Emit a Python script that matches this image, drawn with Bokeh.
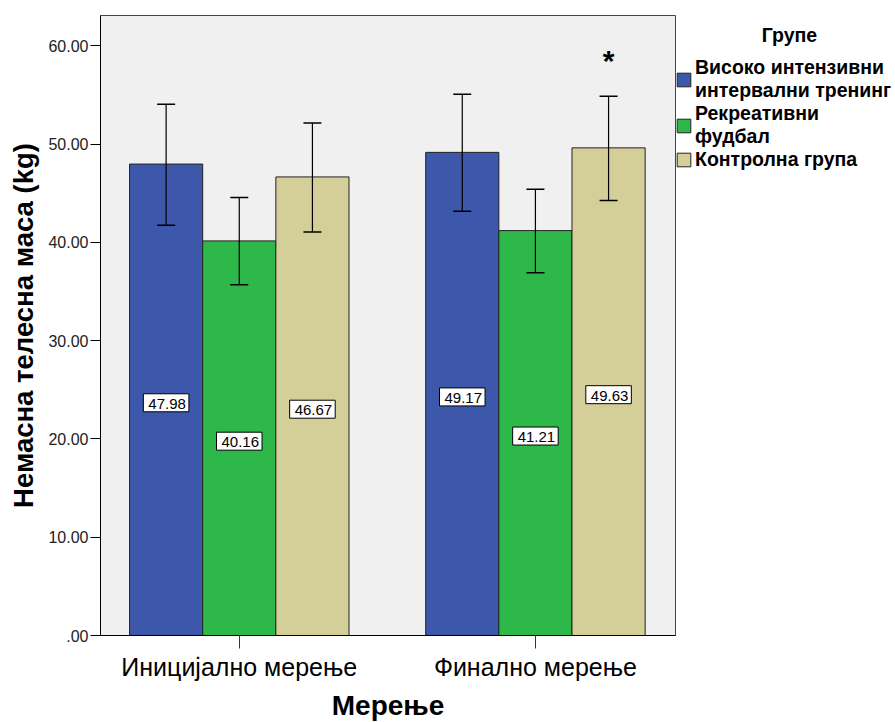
from bokeh.plotting import figure
from bokeh.models import (ColumnDataSource, FixedTicker, Whisker, TeeHead,
                          Label, Legend, LegendItem)
from bokeh.embed import file_html
from bokeh.resources import INLINE

# ---- data ----
measurements = ["Иницијално мерење", "Финално мерење"]
groups = ["Високо интензивни\nинтервални тренинг", "Рекреативни\nфудбал", "Контролна група"]
legend_title = "Групе"
colors = ["#3d57aa", "#2fb84a", "#d4ce98"]
means_initial = [47.98, 40.16, 46.67]
means_final = [49.17, 41.21, 49.63]
upper_initial = [54.07, 44.57, 52.17]
lower_initial = [41.75, 35.71, 41.07]
upper_final = [55.09, 45.42, 54.89]
lower_final = [43.18, 36.93, 44.27]
y_ticks = [0, 10, 20, 30, 40, 50, 60]
y_tick_labels = [".00", "10.00", "20.00", "30.00", "40.00", "50.00", "60.00"]

FONT = "Liberation Sans"
FW, FH = 575, 620
bar_w = 0.247
offsets = [-bar_w, 0.0, bar_w]

p = figure(frame_width=FW, frame_height=FH, x_range=(-0.4686, 1.473), y_range=(0, 63.1),
           output_backend="svg", toolbar_location=None,
           min_border_left=100, min_border_top=15, min_border_bottom=10, min_border_right=0)
p.background_fill_color = "#f0f0f0"
p.border_fill_color = "white"
p.outline_line_color = "#444444"
p.outline_line_width = 1
p.xgrid.visible = False
p.ygrid.visible = False

legend_items = []
for gi in range(3):
    xs = [mi + offsets[gi] for mi in range(len(measurements))]
    tops = [means_initial[gi], means_final[gi]]
    ups = [upper_initial[gi], upper_final[gi]]
    los = [lower_initial[gi], lower_final[gi]]
    src = ColumnDataSource(dict(x=xs, top=tops, upper=ups, lower=los))
    r = p.vbar(x="x", top="top", bottom=0, width=bar_w, source=src,
               fill_color=colors[gi], line_color="#222222", line_width=1)
    legend_items.append(LegendItem(label=groups[gi], renderers=[r]))
    wh = Whisker(base="x", upper="upper", lower="lower", source=src, level="overlay",
                 line_color="black", line_width=1.2,
                 upper_head=TeeHead(size=18, line_color="black", line_width=1.5),
                 lower_head=TeeHead(size=18, line_color="black", line_width=1.5))
    p.add_layout(wh)
    for xv, tv in zip(xs, tops):
        p.add_layout(Label(x=xv, y=tv / 2, y_offset=-3, text="%.2f" % tv, level="overlay",
                           text_align="center", text_baseline="middle",
                           text_font=FONT, text_font_size="15px", text_color="black",
                           background_fill_color="white", border_line_color="black",
                           border_line_width=1, padding=(5, 3, 5, 3)))

# significance star above the control group in the final measurement
star = Label(x=1 + offsets[2], y=upper_final[2] + 3.6, text="*", text_align="center",
             text_baseline="middle", text_font=FONT, text_font_size="30px",
             text_font_style="bold", text_color="black")
p.add_layout(star)

# axes
p.yaxis.ticker = FixedTicker(ticks=y_ticks)
p.yaxis.major_label_overrides = {t: l for t, l in zip(y_ticks, y_tick_labels)}
p.yaxis.minor_tick_line_color = None
p.yaxis.major_tick_in = 0
p.yaxis.major_tick_out = 10
p.yaxis.major_label_standoff = 2
p.yaxis.major_label_text_font = FONT
p.yaxis.major_label_text_font_size = "16px"
p.yaxis.major_label_text_color = "#222222"
p.yaxis.axis_line_color = "black"
p.yaxis.major_tick_line_color = "black"
p.yaxis.axis_label = "Немасна телесна маса (kg)"
p.yaxis.axis_label_text_font = FONT
p.yaxis.axis_label_text_font_size = "27.5px"
p.yaxis.axis_label_text_font_style = "bold"
p.yaxis.axis_label_text_color = "black"
p.yaxis.axis_label_standoff = 6

p.xaxis.ticker = FixedTicker(ticks=list(range(len(measurements))))
p.xaxis.major_label_overrides = {i: m for i, m in enumerate(measurements)}
p.xaxis.minor_tick_line_color = None
p.xaxis.major_tick_in = 0
p.xaxis.major_tick_out = 13
p.xaxis.major_label_standoff = 4
p.xaxis.major_label_text_font = FONT
p.xaxis.major_label_text_font_size = "25px"
p.xaxis.major_label_text_color = "black"
p.xaxis.axis_line_color = "black"
p.xaxis.major_tick_line_color = "#333333"
p.xaxis.axis_label = "Мерење"
p.xaxis.axis_label_text_font = FONT
p.xaxis.axis_label_text_font_size = "28px"
p.xaxis.axis_label_text_font_style = "bold"
p.xaxis.axis_label_text_color = "black"
p.xaxis.axis_label_standoff = 6

legend = Legend(items=legend_items, location=(0, 464),
                title="\u00a0" * 16 + legend_title,
                title_text_font=FONT, title_text_font_size="19.5px",
                title_text_font_style="bold", title_text_color="black",
                title_standoff=9,
                label_text_font=FONT, label_text_font_size="19.5px",
                label_text_font_style="bold", label_text_color="black",
                glyph_width=17, glyph_height=17, label_standoff=3,
                spacing=0, padding=0, margin=0,
                border_line_color=None, background_fill_alpha=0,
                label_text_line_height=0.73)
p.add_layout(legend, "right")

open("out.html", "w").write(file_html(p, INLINE))
